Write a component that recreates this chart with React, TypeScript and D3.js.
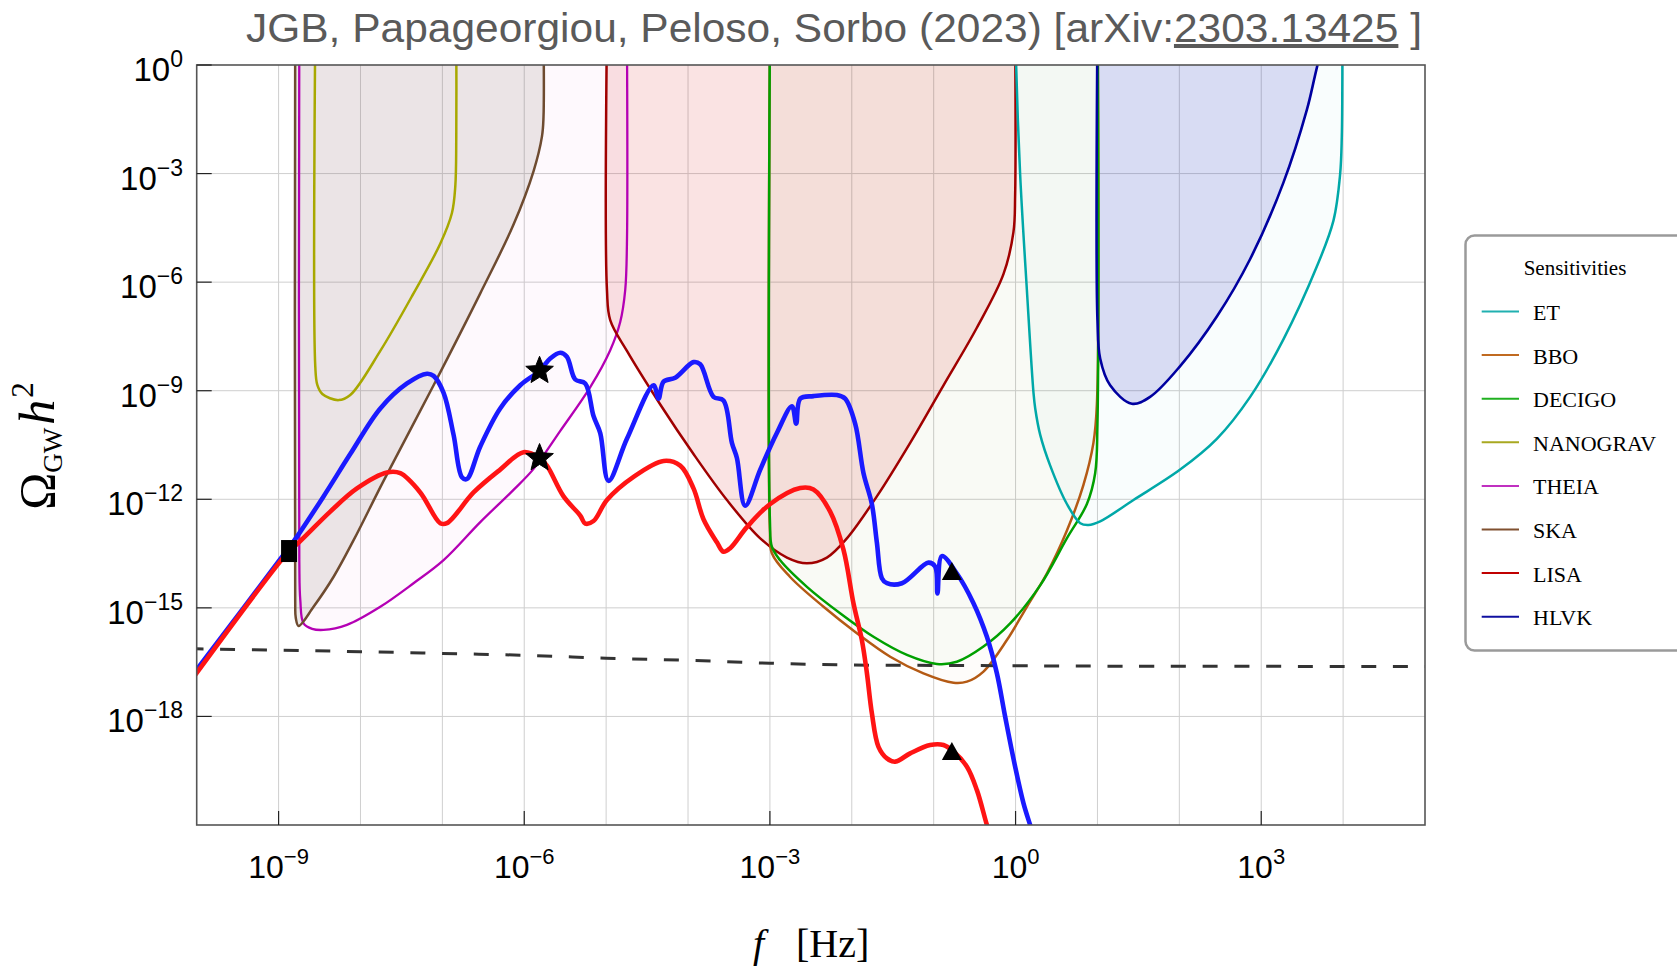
import React from 'react';
import * as d3 from 'd3';

type P = [number, number]; // [log10 f, log10 Omega h^2]

// ---------- axes ----------
const xTickExps = [-9, -6, -3, 0, 3];
const yTickExps = [0, -3, -6, -9, -12, -15, -18];
const xGridExps = [-9, -8, -7, -6, -5, -4, -3, -2, -1, 0, 1, 2, 3, 4];
const yGridExps = [-3, -6, -9, -12, -15, -18];

// ---------- sensitivity curves (open to the top) ----------
const skaCurve: P[] = [
  [-8.797, 1], [-8.797, -14.78], [-8.79, -15.28], [-8.756, -15.5], [-8.573, -14.97],
  [-8.328, -14.14], [-8.084, -13.13], [-7.718, -11.49], [-7.107, -8.85], [-6.537, -6.31],
  [-6.131, -4.41], [-5.886, -2.93], [-5.784, -1.98], [-5.765, -1.45], [-5.765, 1],
];
const theiaCurve: P[] = [
  [-8.747, 1], [-8.747, -13.68], [-8.735, -14.78], [-8.695, -15.43], [-8.59, -15.58],
  [-8.451, -15.61], [-8.165, -15.47], [-7.758, -14.97], [-7.352, -14.32], [-6.985, -13.68],
  [-6.537, -12.63], [-6.131, -11.74], [-5.886, -11.16], [-5.56, -10.11], [-5.194, -8.9],
  [-4.95, -7.88], [-4.828, -7.1], [-4.767, -6.22], [-4.746, -4.94], [-4.746, 1],
];
const nanogravCurve: P[] = [
  [-8.552, 1], [-8.552, -8.32], [-8.527, -8.84], [-8.466, -9.09], [-8.267, -9.26],
  [-8.125, -9.12], [-7.758, -7.9], [-7.352, -6.31], [-7.026, -4.94], [-6.883, -4.09],
  [-6.842, -3.35], [-6.83, -1.98], [-6.83, 1],
];
const lisaCurve: P[] = [
  [-4.99, 1], [-4.99, -6.21], [-4.95, -7.05], [-4.746, -7.9], [-4.339, -9.38],
  [-3.933, -10.75], [-3.525, -12.02], [-3.118, -13.08], [-2.792, -13.61], [-2.548, -13.77],
  [-2.304, -13.61], [-2.06, -13.08], [-1.694, -11.92], [-1.287, -10.44], [-0.88, -8.85],
  [-0.473, -7.26], [-0.148, -5.78], [-0.026, -4.62], [-0.005, -3.56], [-0.005, 1],
];
const decigoCurve: P[] = [
  [-3.0, 1], [-3.0, -12.57], [-2.976, -13.31], [-2.877, -13.68], [-2.548, -14.42],
  [-2.143, -15.15], [-1.735, -15.8], [-1.327, -16.3], [-0.961, -16.55], [-0.717, -16.49],
  [-0.392, -16.07], [-0.066, -15.43], [0.3, -14.38], [0.626, -13.08], [0.871, -12.13],
  [0.972, -11.28], [1.0, -9.91], [1.003, 1],
];
const bboCurve: P[] = [
  [-3.0, 1], [-3.0, -12.85], [-2.976, -13.49], [-2.756, -14.14], [-2.345, -14.97],
  [-1.938, -15.7], [-1.531, -16.35], [-1.125, -16.81], [-0.758, -17.07], [-0.594, -17.04],
  [-0.392, -16.76], [-0.106, -15.89], [0.138, -14.97], [0.382, -14.05], [0.626, -12.87],
  [0.829, -11.6], [0.951, -10.44], [0.993, -9.38], [1.003, 1],
];
const etCurve: P[] = [
  [0.0, 1], [0.007, 0], [0.056, -3.03], [0.138, -6.21], [0.219, -9.06], [0.24, -9.49],
  [0.301, -10.22], [0.423, -11.07], [0.627, -12.13], [0.79, -12.66], [0.89, -12.71],
  [1.033, -12.61], [1.44, -12.02], [2.01, -11.18], [2.458, -10.33], [2.865, -9.17],
  [3.271, -7.58], [3.679, -5.57], [3.882, -4.3], [3.963, -3.03], [3.984, -1.98],
  [3.991, 0], [3.991, 1],
];
const hlvkCurve: P[] = [
  [1.0, 1], [1.0, -7.05], [1.033, -8.11], [1.155, -8.85], [1.42, -9.36], [1.643, -9.17],
  [2.01, -8.32], [2.458, -6.95], [2.865, -5.36], [3.271, -3.25], [3.557, -1.24],
  [3.658, -0.28], [3.79, 1],
];

// ---------- signal spectra ----------
const blueSignal: P[] = [
  [-10.02, -16.77], [-8.872, -13.33], [-8.775, -13.03], [-8.451, -11.92], [-8.125, -10.75],
  [-7.758, -9.49], [-7.432, -8.8], [-7.188, -8.53], [-7.107, -8.59], [-6.985, -9.06],
  [-6.863, -10.22], [-6.761, -11.39], [-6.7, -11.44], [-6.537, -10.54], [-6.294, -9.49],
  [-6.049, -8.85], [-5.813, -8.45], [-5.683, -8.11], [-5.56, -7.95], [-5.479, -8.06],
  [-5.377, -8.69], [-5.255, -8.8], [-5.154, -9.7], [-5.072, -10.17], [-4.971, -11.49],
  [-4.746, -10.33], [-4.421, -8.85], [-4.36, -9.22], [-4.299, -8.75], [-4.156, -8.64],
  [-3.933, -8.21], [-3.851, -8.27], [-3.689, -9.17], [-3.567, -9.27], [-3.464, -10.44],
  [-3.403, -10.86], [-3.302, -12.18], [-3.118, -11.18], [-2.915, -10.17], [-2.731, -9.43],
  [-2.679, -9.91], [-2.63, -9.22], [-2.468, -9.15], [-2.182, -9.12], [-2.081, -9.22],
  [-1.959, -9.91], [-1.857, -11.28], [-1.755, -12.13], [-1.694, -13.19], [-1.633, -14.18],
  [-1.571, -14.32], [-1.388, -14.32], [-1.064, -13.75], [-0.982, -13.86], [-0.954, -14.6],
  [-0.9, -13.57], [-0.717, -14.05], [-0.514, -14.87], [-0.35, -15.8], [-0.228, -16.81],
  [-0.127, -18.01], [-0.005, -19.39], [0.097, -20.4], [0.178, -21.0], [0.22, -21.3],
];
const redSignal: P[] = [
  [-10.02, -16.86], [-8.872, -13.43], [-8.775, -13.24], [-8.369, -12.34], [-8.043, -11.7],
  [-7.676, -11.26], [-7.514, -11.28], [-7.27, -11.81], [-7.026, -12.66], [-6.944, -12.66],
  [-6.619, -11.81], [-6.294, -11.18], [-6.009, -10.7], [-5.813, -10.86], [-5.723, -11.07],
  [-5.52, -11.92], [-5.316, -12.45], [-5.255, -12.67], [-5.154, -12.6], [-4.99, -12.02],
  [-4.665, -11.38], [-4.299, -10.94], [-4.095, -11.07], [-3.933, -11.7], [-3.811, -12.55],
  [-3.647, -13.19], [-3.567, -13.45], [-3.485, -13.35], [-3.281, -12.77], [-2.996, -12.13],
  [-2.63, -11.69], [-2.468, -11.73], [-2.264, -12.34], [-2.101, -13.4], [-1.979, -14.88],
  [-1.877, -15.89], [-1.815, -16.81], [-1.755, -17.91], [-1.674, -18.84], [-1.571, -19.16],
  [-1.47, -19.25], [-1.287, -19.02], [-1.043, -18.79], [-0.88, -18.79], [-0.758, -18.97],
  [-0.594, -19.39], [-0.473, -20.03], [-0.35, -21.0], [-0.28, -21.5],
];
const dashedBound: P[] = [
  [-10.1, -16.13], [-9, -16.17], [-8, -16.21], [-7, -16.26], [-6, -16.31], [-5, -16.39],
  [-4, -16.45], [-3, -16.53], [-2, -16.58], [-1, -16.59], [0, -16.6], [1, -16.61], [5, -16.62],
];

const squareMarkers: P[] = [[-8.872, -13.43]];
const starMarkers: P[] = [[-5.813, -8.45], [-5.813, -10.86]];
const triangleMarkers: P[] = [[-0.778, -14.01], [-0.778, -18.98]];

// ---------- series styling ----------
const sensitivities = [
  { name: 'THEIA', pts: theiaCurve, color: '#b400b4', fill: '#c000a0', op: 0.025, w: 2.3 },
  { name: 'SKA', pts: skaCurve, color: '#6e4b30', fill: '#6a5a4a', op: 0.13, w: 2.5 },
  { name: 'NANOGRAV', pts: nanogravCurve, color: '#a8a800', fill: '#a8a800', op: 0, w: 2.5 },
  { name: 'LISA', pts: lisaCurve, color: '#a00000', fill: '#d00000', op: 0.11, w: 2.5 },
  { name: 'BBO', pts: bboCurve, color: '#b45a14', fill: '#b45a14', op: 0.02, w: 2.5 },
  { name: 'DECIGO', pts: decigoCurve, color: '#00a000', fill: '#00a000', op: 0.018, w: 2.5 },
  { name: 'ET', pts: etCurve, color: '#00a8a8', fill: '#00a8a8', op: 0.025, w: 2.5 },
  { name: 'HLVK', pts: hlvkCurve, color: '#0000a0', fill: '#0000b0', op: 0.13, w: 2.6 },
];

const legendNames = ['ET', 'BBO', 'DECIGO', 'NANOGRAV', 'THEIA', 'SKA', 'LISA', 'HLVK'];
const legendColors = ['#20b0b0', '#c06a20', '#20b020', '#a8a820', '#c030c0', '#805030', '#c00000', '#1010a0'];

const titleParts = ['JGB, Papageorgiou, Peloso, Sorbo (2023) [arXiv:', '2303.13425', ' ]'];

// ---------- layout ----------
const W = 1677;
const H = 967;
const L = 196.7, R = 1425, T = 65, B = 825;

const fx = d3.scaleLog().domain([1e-10, 1e5]).range([L, R]);
const fy = d3.scaleLog().domain([1e-21, 1]).range([B, T]);
const px = (p: P) => fx(Math.pow(10, p[0]));
const py = (p: P) => fy(Math.pow(10, p[1]));

const smooth = d3.line<P>().x(px).y(py).curve(d3.curveCatmullRom.alpha(0.5));

// five-pointed star centred on the origin
function starPath(rOut: number, rIn: number): string {
  const pts: [number, number][] = [];
  for (let k = 0; k < 10; k++) {
    const r = k % 2 === 0 ? rOut : rIn;
    const a = -Math.PI / 2 + (k * Math.PI) / 5;
    pts.push([r * Math.cos(a), r * Math.sin(a)]);
  }
  return d3.line()(pts) + 'Z';
}
const STAR = starPath(14.5, 6.4);

const sansFont = '"Liberation Sans", Arial, sans-serif';
const serifFont = '"Liberation Serif", "Times New Roman", serif';

export default function App() {
  return (
    <svg
      width={W}
      height={H}
      viewBox={`0 0 ${W} ${H}`}
      style={{ position: 'absolute', left: 0, top: 0, display: 'block', background: '#fff' }}
    >
      <defs>
        <clipPath id="plot-area">
          <rect x={L} y={T} width={R - L} height={B - T} />
        </clipPath>
      </defs>

      {/* title */}
      <text
        x={246}
        y={42}
        fontFamily={sansFont}
        fontSize={40}
        fill="#5a5a5a"
        textLength={1176}
        lengthAdjust="spacingAndGlyphs"
      >
        {titleParts[0]}
        <tspan textDecoration="underline">{titleParts[1]}</tspan>
        {titleParts[2]}
      </text>

      {/* grid */}
      <g stroke="#cfcfcf" strokeWidth={1}>
        {xGridExps.map((e) => (
          <line key={'gx' + e} x1={fx(Math.pow(10, e))} x2={fx(Math.pow(10, e))} y1={T} y2={B} />
        ))}
        {yGridExps.map((e) => (
          <line key={'gy' + e} x1={L} x2={R} y1={fy(Math.pow(10, e))} y2={fy(Math.pow(10, e))} />
        ))}
      </g>

      <g clipPath="url(#plot-area)">
        {/* sensitivity regions */}
        {sensitivities.map((s) => (
          <path key={'f' + s.name} d={(smooth(s.pts) as string) + 'Z'} fill={s.fill} fillOpacity={s.op} stroke="none" />
        ))}
        {sensitivities.map((s) => (
          <path key={'l' + s.name} d={smooth(s.pts) as string} fill="none" stroke={s.color} strokeWidth={s.w} />
        ))}

        {/* reference bound */}
        <path
          d={smooth(dashedBound) as string}
          fill="none"
          stroke="#333"
          strokeWidth={3}
          strokeDasharray="15 16.7"
        />

        {/* spectra */}
        <path d={smooth(blueSignal) as string} fill="none" stroke="#1a1aff" strokeWidth={4.6} strokeLinejoin="round" />
        <path d={smooth(redSignal) as string} fill="none" stroke="#ff1414" strokeWidth={4.6} strokeLinejoin="round" />

        {/* markers */}
        {squareMarkers.map((p, i) => (
          <rect key={'sq' + i} x={px(p) - 8} y={py(p) - 11} width={16} height={22} fill="#000" />
        ))}
        {starMarkers.map((p, i) => (
          <path key={'st' + i} d={STAR} transform={`translate(${px(p)},${py(p)})`} fill="#000" stroke="#000" strokeWidth={1} />
        ))}
        {triangleMarkers.map((p, i) => (
          <path
            key={'tr' + i}
            d={`M${px(p) - 10},${py(p) + 8}L${px(p) + 10},${py(p) + 8}L${px(p)},${py(p) - 10}Z`}
            fill="#000"
          />
        ))}
      </g>

      {/* frame */}
      <rect x={L} y={T} width={R - L} height={B - T} fill="none" stroke="#555" strokeWidth={1.6} />

      {/* ticks */}
      <g stroke="#222" strokeWidth={1.2}>
        {xTickExps.map((e) => (
          <line key={'tx' + e} x1={fx(Math.pow(10, e))} x2={fx(Math.pow(10, e))} y1={B} y2={B - 14} />
        ))}
        {yTickExps.map((e) => (
          <line key={'ty' + e} x1={L} x2={L + 15} y1={fy(Math.pow(10, e))} y2={fy(Math.pow(10, e))} />
        ))}
      </g>

      {/* tick labels */}
      <g fontFamily={sansFont} fill="#000">
        {xTickExps.map((e) => (
          <text key={'lx' + e} x={fx(Math.pow(10, e))} y={B + 53} textAnchor="middle" fontSize={32}>
            10
            <tspan dy={-14} fontSize={22}>
              {e < 0 ? '\u2212' + Math.abs(e) : String(e)}
            </tspan>
          </text>
        ))}
        {yTickExps.map((e) => (
          <text key={'ly' + e} x={183} y={fy(Math.pow(10, e)) + 16} textAnchor="end" fontSize={33}>
            10
            <tspan dy={-14} fontSize={23}>
              {e < 0 ? '\u2212' + Math.abs(e) : String(e)}
            </tspan>
          </text>
        ))}
      </g>

      {/* axis titles */}
      <g fontFamily={serifFont} fill="#000">
        <text x={753} y={957} fontSize={40} fontStyle="italic">f</text>
        <text x={796} y={957} fontSize={40}>[Hz]</text>
        <text transform="translate(54,446) rotate(-90)" textAnchor="middle" fontSize={50}>
          Ω
          <tspan dy={8} fontSize={27}>GW</tspan>
          <tspan dy={-8} dx={3} fontStyle="italic">h</tspan>
          <tspan dy={-21} dx={2} fontSize={31}>2</tspan>
        </text>
      </g>

      {/* legend */}
      <g>
        <rect x={1465.5} y={235.5} width={260} height={415} rx={9} fill="#fff" stroke="#9a9a9a" strokeWidth={2.5} />
        <text x={1575} y={275} textAnchor="middle" fontFamily={serifFont} fontSize={21} fill="#000">
          Sensitivities
        </text>
        {legendNames.map((n, i) => {
          const yb = 320 + i * 43.6;
          return (
            <g key={'lg' + n}>
              <line x1={1481.7} x2={1519} y1={yb - 8.5} y2={yb - 8.5} stroke={legendColors[i]} strokeWidth={2} />
              <text x={1533} y={yb} fontFamily={serifFont} fontSize={22} fill="#000">
                {n}
              </text>
            </g>
          );
        })}
      </g>
    </svg>
  );
}
